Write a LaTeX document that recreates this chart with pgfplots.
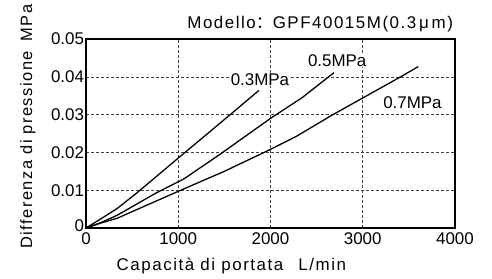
\documentclass[border=0pt]{standalone}
\usepackage{fontspec}
\setmainfont{Liberation Sans}
\newfontfamily\widefont[LetterSpace=9]{Liberation Sans}
\newfontfamily\cjk{Noto Sans CJK SC}
\usepackage{pgfplots}
\pgfplotsset{compat=1.18}
\begin{document}
\begin{tikzpicture}
\useasboundingbox (0,0) rectangle (492bp,279bp);
\begin{axis}[
  at={(86bp,51bp)}, anchor=south west,
  scale only axis, width=369bp, height=189bp,
  xmin=0, xmax=4000, ymin=0, ymax=0.05,
  xtick={0,1000,2000,3000,4000},
  ytick={0,0.01,0.02,0.03,0.04,0.05},
  yticklabels={\raisebox{4bp}{0},0.01,0.02,0.03,0.04,0.05},
  scaled y ticks=false,
  /pgf/number format/assume math mode=true,
  /pgf/number format/1000 sep={},
  ticklabel style={font=\fontsize{17}{19}\selectfont},
  yticklabel style={xshift=1.5bp},
  xticklabel style={yshift=-1bp},
  major tick length=0pt,
  grid=major,
  major grid style={dash pattern=on 3bp off 2bp, black!75, line width=0.6pt},
  axis line style={line width=1.1pt},
  clip=false,
]
\addplot[black, line width=1.3pt] coordinates {(0,0) (160,0.0024) (340,0.0052) (557,0.0094) (1000,0.0185) (1525,0.0292) (1875,0.0364)};
\addplot[black, line width=1.3pt] coordinates {(0,0) (160,0.0014) (340,0.0034) (755,0.0092) (1062,0.013) (1453,0.0195) (2000,0.029) (2338,0.0344) (2688,0.0411)};
\addplot[black, line width=1.3pt] coordinates {(0,0) (160,0.0013) (340,0.0026) (1000,0.0097) (1500,0.015) (2000,0.0208) (2284,0.0243) (2663,0.0298) (3000,0.0344) (3404,0.0399) (3602,0.0427)};
\node[font=\fontsize{17}{19}\selectfont, anchor=base, fill=white, inner sep=0.5pt] at (axis cs:1886,0.0378) {0.3MPa};
\node[font=\fontsize{17}{19}\selectfont, anchor=base, fill=white, inner sep=0.5pt] at (axis cs:2723,0.0427) {0.5MPa};
\node[font=\fontsize{17}{19}\selectfont, anchor=base, fill=white, inner sep=0.5pt] at (axis cs:3539,0.0317) {0.7MPa};
\node[font=\widefont\fontsize{17}{19}\selectfont, anchor=base east, inner sep=0pt] at (axis description cs:0.995,1.058) {Modello{\cjk ：}GPF40015M(0.3\,μ\,m)};
\node[font=\widefont\fontsize{17}{19}\selectfont, anchor=base, inner sep=0pt] at (axis description cs:0.394,-0.226) {Capacità di portata\hspace{0.9em}L/min};
\node[font=\widefont\fontsize{16.5}{19}\selectfont, rotate=90, anchor=base, inner sep=0pt] at (axis description cs:-0.146,0.537) {Differenza di pressione\hspace{0.6em}MPa};
\end{axis}
\end{tikzpicture}
\end{document}
